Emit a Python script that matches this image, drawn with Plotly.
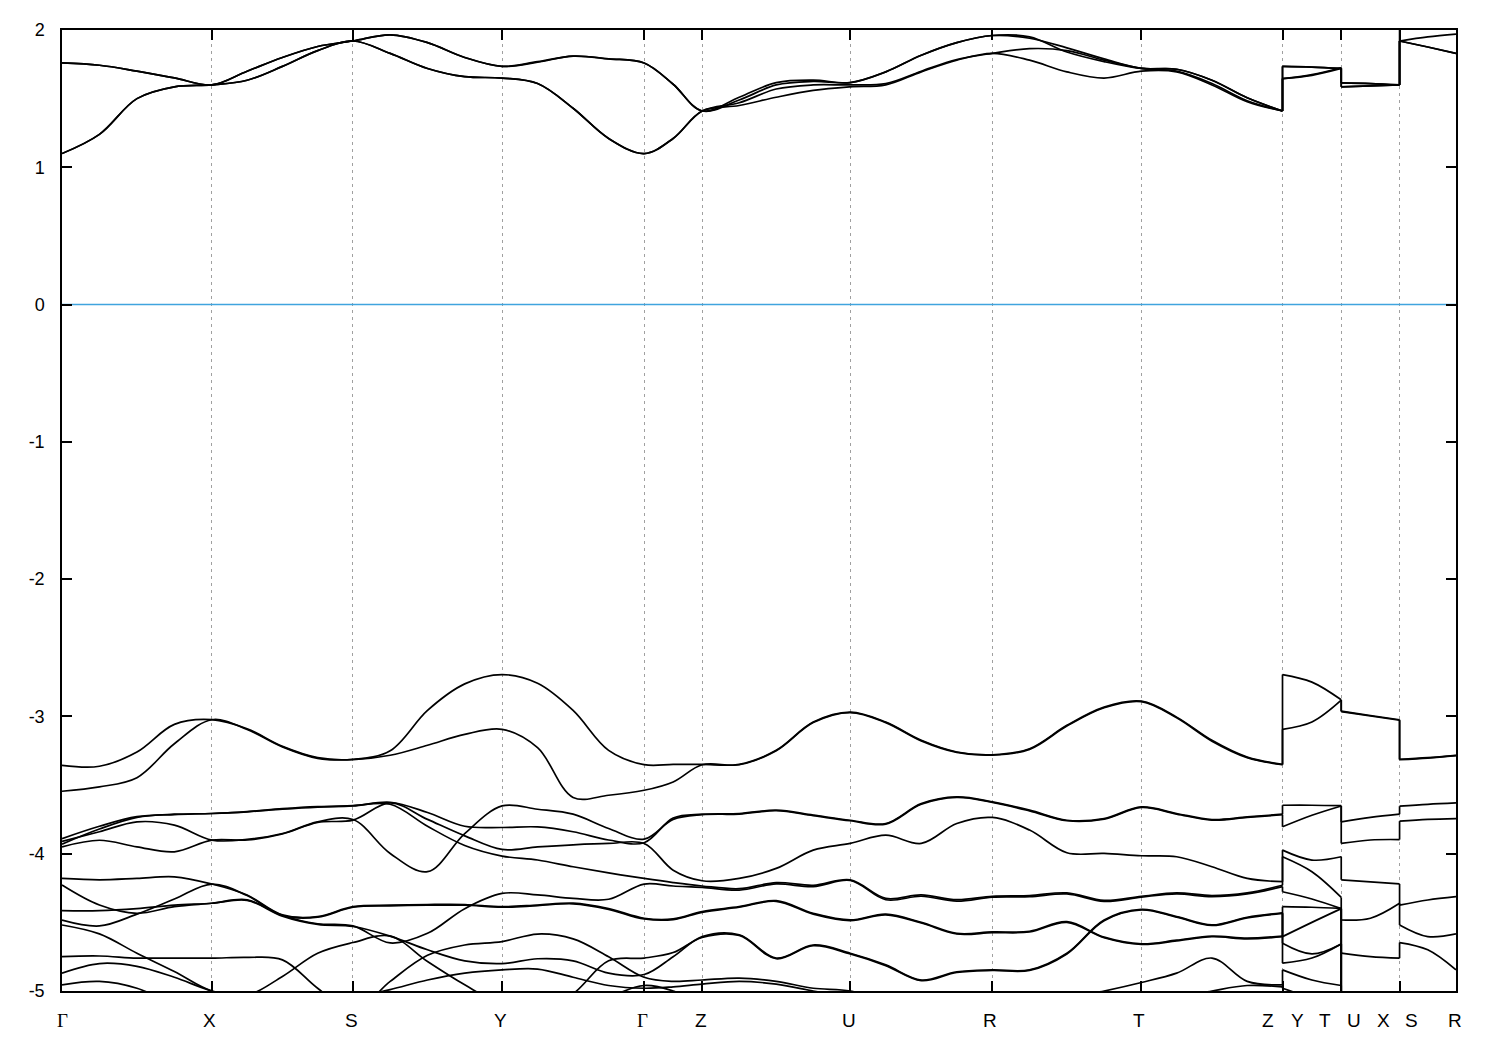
import plotly.graph_objects as go

# k-path distance of every sampled point (arbitrary units)
K = [0.0, 0.374, 0.749, 1.123, 1.498, 1.850, 2.203, 2.555, 2.908, 3.280, 3.653, 4.025, 4.398,
     4.753, 5.108, 5.463, 5.818, 6.108, 6.398, 6.768, 7.138, 7.508, 7.878, 8.233, 8.588, 8.943, 9.298,
     9.670, 10.043, 10.415, 10.788, 11.140, 11.493, 11.845, 12.198,
     12.198, 12.492, 12.785, 12.785, 13.077, 13.368, 13.368, 13.650, 13.932]

# high-symmetry points (tick positions)
KPOINT_POS = [0.0, 1.498, 2.908, 4.398, 5.818, 6.398, 7.878, 9.298, 10.788, 12.198, 12.785, 13.368, 13.932]
LABEL_TEXT = ["Γ", "X", "S", "Y", "Γ", "Z", "U", "R", "T", "Z", "Y", "T", "U", "X", "S", "R"]
LABEL_K = [0.0, 1.47, 2.895, 4.385, 5.80, 6.385, 7.865, 9.275, 10.765, 12.055, 12.345, 12.625, 12.915, 13.205, 13.485, 13.925]

Y_TICKS = [2, 1, 0, -1, -2, -3, -4, -5]
Y_TICKTEXT = ["2", "1", "0", "-1", "-2", "-3", "-4", "-5"]

# segments: GX(5) XS(4) SY(4) YG(4) GZ(2) ZU(4) UR(4) RT(4) TZ(4) | YT(3) | UX(3) | SR(3)
C1 = [1.10, 1.24, 1.50, 1.586, 1.60, 1.634, 1.735, 1.85, 1.92, 1.83, 1.72, 1.66, 1.65,
      1.61, 1.43, 1.21, 1.10, 1.21, 1.41, 1.45, 1.51, 1.56, 1.586, 1.60, 1.695, 1.78, 1.83,
      1.78, 1.695, 1.65, 1.70, 1.695, 1.60, 1.477, 1.41, 1.646, 1.67, 1.72, 1.586, 1.593, 1.60,
      1.92, 1.876, 1.83]
C2 = [1.10, 1.24, 1.50, 1.586, 1.60, 1.634, 1.735, 1.85, 1.92, 1.83, 1.72, 1.66, 1.65,
      1.61, 1.43, 1.21, 1.10, 1.21, 1.41, 1.47, 1.57, 1.60, 1.60, 1.61, 1.70, 1.785, 1.83,
      1.864, 1.85, 1.78, 1.72, 1.70, 1.61, 1.485, 1.41, 1.646, 1.675, 1.725, 1.586, 1.593, 1.60,
      1.92, 1.876, 1.83]
C3 = [1.76, 1.743, 1.70, 1.651, 1.60, 1.70, 1.80, 1.88, 1.92, 1.965, 1.908, 1.80, 1.735,
      1.765, 1.81, 1.79, 1.76, 1.605, 1.41, 1.49, 1.60, 1.625, 1.617, 1.695, 1.816, 1.908, 1.96,
      1.95, 1.84, 1.77, 1.72, 1.714, 1.634, 1.506, 1.41, 1.735, 1.73, 1.72, 1.615, 1.61, 1.60,
      1.92, 1.95, 1.97]
C4 = [1.76, 1.743, 1.70, 1.651, 1.60, 1.70, 1.80, 1.88, 1.92, 1.965, 1.908, 1.80, 1.735,
      1.77, 1.81, 1.79, 1.76, 1.605, 1.41, 1.51, 1.617, 1.635, 1.617, 1.695, 1.816, 1.908, 1.96,
      1.94, 1.87, 1.79, 1.72, 1.714, 1.634, 1.506, 1.41, 1.735, 1.73, 1.72, 1.615, 1.61, 1.60,
      2.15, 2.12, 2.10]

V1 = [-3.356, -3.363, -3.259, -3.058, -3.024, -3.09, -3.218, -3.30, -3.312, -3.25, -2.956, -2.763, -2.695,
      -2.758, -2.956, -3.247, -3.351, -3.349, -3.349, -3.349, -3.247, -3.041, -2.968,
      -3.041, -3.174, -3.259, -3.279, -3.235, -3.065, -2.932, -2.889, -3.005, -3.174, -3.296, -3.349,
      -2.695, -2.75, -2.879, -2.961, -2.993, -3.024, -3.312, -3.30, -3.283]
V2 = [-3.545, -3.513, -3.446, -3.199, -3.024, -3.095, -3.222, -3.305, -3.315, -3.283, -3.21, -3.131, -3.094,
      -3.228, -3.59, -3.574, -3.538, -3.477, -3.352, -3.352, -3.25, -3.045, -2.972,
      -3.045, -3.178, -3.262, -3.282, -3.24, -3.07, -2.937, -2.892, -3.01, -3.18, -3.30, -3.352,
      -3.094, -3.041, -2.882, -2.965, -2.997, -3.028, -3.315, -3.303, -3.286]

G2A = [-3.89, -3.80, -3.73, -3.715, -3.707, -3.695, -3.675, -3.66, -3.652, -3.625, -3.70, -3.80, -3.809,
       -3.805, -3.84, -3.90, -3.92, -3.74, -3.712, -3.707, -3.683, -3.719, -3.756,
       -3.780, -3.635, -3.586, -3.622, -3.683, -3.756, -3.744, -3.659, -3.707, -3.751, -3.732, -3.712,
       -3.647, -3.647, -3.65, -3.768, -3.735, -3.712, -3.654, -3.64, -3.63]
G2B = [-3.91, -3.84, -3.768, -3.792, -3.901, -3.896, -3.853, -3.768, -3.751, -3.998, -4.131, -3.853, -3.652,
       -3.676, -3.712, -3.816, -3.894, -3.75, -3.716, -3.711, -3.687, -3.723, -3.76,
       -3.784, -3.64, -3.59, -3.626, -3.688, -3.76, -3.748, -3.663, -3.711, -3.755, -3.736, -3.716,
       -3.804, -3.72, -3.652, -3.925, -3.90, -3.897, -3.763, -3.75, -3.744]
G2C = [-3.95, -3.902, -3.95, -3.986, -3.901, -3.90, -3.856, -3.772, -3.755, -3.63, -3.75, -3.87, -3.969,
       -3.95, -3.935, -3.925, -3.925, -4.12, -4.197, -4.18, -4.107, -3.974, -3.925,
       -3.865, -3.925, -3.78, -3.736, -3.828, -3.993, -3.998, -4.015, -4.022, -4.095, -4.18, -4.204,
       -3.974, -4.046, -4.022, -4.19, -4.205, -4.22, -4.374, -4.337, -4.313]
G2D = [-3.93, -3.82, -3.735, -3.712, -3.707, -3.693, -3.672, -3.657, -3.65, -3.64, -3.80, -3.94, -4.017,
       -4.046, -4.095, -4.14, -4.18, -4.21, -4.235, -4.255, -4.21, -4.23, -4.19,
       -4.325, -4.30, -4.335, -4.31, -4.305, -4.285, -4.34, -4.31, -4.285, -4.305, -4.285, -4.23,
       -4.022, -4.131, -4.318, -4.483, -4.47, -4.361, -4.519, -4.604, -4.584]

H1 = [-4.18, -4.19, -4.18, -4.168, -4.221, -4.301, -4.446, -4.458, -4.386, -4.375, -4.37, -4.37, -4.386,
      -4.374, -4.36, -4.40, -4.47, -4.475, -4.422, -4.386, -4.342, -4.434, -4.482,
      -4.44, -4.50, -4.58, -4.57, -4.565, -4.495, -4.608, -4.657, -4.63, -4.60, -4.615, -4.60,
      -4.386, -4.39, -4.398, -5.08, -5.1, -5.1, -5.1, -5.1, -5.1]
H2 = [-4.228, -4.374, -4.434, -4.386, -4.361, -4.336, -4.45, -4.51, -4.526, -4.65, -4.58, -4.40, -4.289,
      -4.30, -4.325, -4.332, -4.221, -4.235, -4.245, -4.265, -4.22, -4.24, -4.195,
      -4.335, -4.31, -4.345, -4.316, -4.313, -4.293, -4.348, -4.316, -4.293, -4.313, -4.293, -4.24,
      -4.277, -4.33, -4.40, -4.724, -4.75, -4.761, -4.647, -4.70, -4.846]
H3 = [-4.483, -4.526, -4.44, -4.33, -4.221, -4.305, -4.45, -4.462, -4.39, -4.38, -4.375, -4.375, -4.39,
      -4.378, -4.365, -4.405, -4.475, -4.48, -4.427, -4.39, -4.347, -4.44, -4.487,
      -4.445, -4.505, -4.585, -4.575, -4.57, -4.50, -4.612, -4.66, -4.635, -4.605, -4.62, -4.605,
      -4.604, -4.50, -4.40, -5.1, -5.1, -5.1, -5.1, -5.1, -5.1]
H4 = [-4.415, -4.415, -4.40, -4.375, -4.361, -4.34, -4.455, -4.515, -4.53, -4.60, -4.70, -4.78, -4.80,
      -4.765, -4.78, -4.87, -4.88, -4.75, -4.604, -4.59, -4.76, -4.665, -4.725,
      -4.81, -4.92, -4.86, -4.846, -4.846, -4.725, -4.483, -4.405, -4.458, -4.519, -4.463, -4.43,
      -4.652, -4.73, -4.657, -5.1, -5.1, -5.1, -5.1, -5.1, -5.1]
H5 = [-4.519, -4.584, -4.725, -4.858, -5.0, -5.03, -4.894, -4.725, -4.647, -4.60, -4.785, -4.955, -5.1,
      -5.15, -5.02, -4.78, -4.76, -4.72, -4.61, -4.595, -4.765, -4.67, -4.73,
      -4.815, -4.925, -4.865, -4.85, -4.85, -4.73, -4.488, -4.41, -4.462, -4.523, -4.467, -4.435,
      -4.797, -4.76, -4.657, -5.1, -5.1, -5.1, -5.1, -5.1, -5.1]
H6 = [-4.749, -4.745, -4.76, -4.76, -4.761, -4.755, -4.773, -4.98, -5.15, -4.93, -4.74, -4.665, -4.64,
      -4.585, -4.62, -4.75, -4.90, -4.93, -4.92, -4.906, -4.93, -4.98, -5.0,
      -5.08, -5.15, -5.2, -5.2, -5.15, -5.05, -5.0, -4.938, -4.87, -4.76, -4.93, -4.955,
      -4.846, -4.92, -4.96, -5.1, -5.1, -5.1, -5.1, -5.1, -5.1]
H7 = [-4.87, -4.80, -4.82, -4.90, -5.0, -5.05, -5.1, -5.1, -5.05, -4.99, -4.92, -4.87, -4.846,
      -4.84, -4.90, -4.96, -4.98, -4.97, -4.95, -4.93, -4.95, -5.0, -5.05,
      -5.1, -5.1, -5.1, -5.1, -5.1, -5.1, -5.1, -5.1, -5.05, -5.0, -4.96, -4.97,
      -4.98, -5.05, -5.1, -5.1, -5.1, -5.1, -5.1, -5.1, -5.1]
H8 = [-4.955, -4.93, -4.98, -5.1, -5.2, -5.2, -5.2, -5.2, -5.2, -5.2, -5.2, -5.2, -5.2,
      -5.2, -5.2, -5.05, -4.96, -5.0, -5.1, -5.2, -5.2, -5.2, -5.2,
      -5.2, -5.2, -5.2, -5.2, -5.2, -5.2, -5.2, -5.2, -5.2, -5.2, -5.2, -5.2,
      -5.2, -5.2, -5.2, -5.2, -5.2, -5.2, -5.2, -5.2, -5.2]

BANDS = [C1, C2, C3, C4, V1, V2, G2A, G2B, G2C, G2D, H1, H2, H3, H4, H5, H6, H7, H8]
PIECES = [(0, 35), (35, 38), (38, 41), (41, 44)]
JUMPS = [34, 37, 40]

fig = go.Figure()

for band in BANDS:
    xs, ys = [], []
    for a, b in PIECES:
        xs += K[a:b] + [None]
        ys += band[a:b] + [None]
    fig.add_trace(go.Scatter(x=xs, y=ys, mode="lines", line=dict(color="black", width=1.7, shape="spline"),
                             connectgaps=False, hoverinfo="skip"))

# vertical connectors at the path discontinuities
cx, cy = [], []
for band in BANDS:
    for j in JUMPS:
        cx += [K[j], K[j + 1], None]
        cy += [band[j], band[j + 1], None]
fig.add_trace(go.Scatter(x=cx, y=cy, mode="lines", line=dict(color="black", width=1.7), hoverinfo="skip"))

# Fermi level
fig.add_trace(go.Scatter(x=[K[0], K[-1]], y=[0, 0], mode="lines", line=dict(color="#40a4de", width=1.5),
                         hoverinfo="skip"))

for txt, kx in zip(LABEL_TEXT, LABEL_K):
    if txt == "Γ":
        txt = '<span style="font-family:Liberation Serif">Γ</span>'
    fig.add_annotation(x=kx, xref="x", y=0, yref="paper", text=txt, showarrow=False,
                       yanchor="middle", yshift=-29, font=dict(family="Liberation Sans", size=19, color="black"))

fig.update_layout(
    width=1492, height=1042, margin=dict(l=54, r=44, t=20, b=59),
    plot_bgcolor="white", paper_bgcolor="white", showlegend=False,
    xaxis=dict(range=[0, K[-1]], tickvals=KPOINT_POS, showticklabels=False, ticks="inside", ticklen=10,
               tickwidth=1.5, tickcolor="black", showline=True, linecolor="black", linewidth=1.5,
               mirror="ticks", showgrid=True, gridcolor="#a0a0a0", griddash="3px,4px", gridwidth=1,
               zeroline=False),
    yaxis=dict(range=[-5, 2], tickvals=Y_TICKS, ticktext=Y_TICKTEXT, ticks="inside", ticklen=10,
               tickwidth=1.5, tickcolor="black", showline=True, linecolor="black", linewidth=1.5,
               mirror="ticks", showgrid=False, zeroline=False, ticklabelstandoff=12,
               tickfont=dict(family="Liberation Sans", size=18, color="black")),
)

fig.write_html("out.html")
